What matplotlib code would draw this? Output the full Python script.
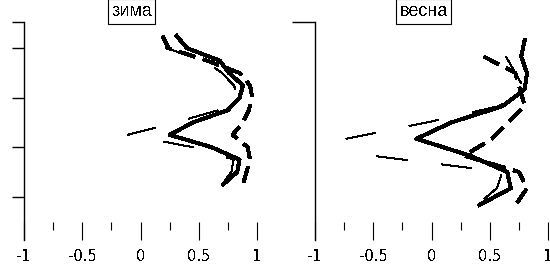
import numpy as np
import matplotlib
matplotlib.use('Agg')
import matplotlib.pyplot as plt

plt.rcParams['font.family'] = ['Liberation Sans', 'DejaVu Sans']
plt.rcParams['axes.unicode_minus'] = False
plt.rcParams['lines.scale_dashes'] = False
plt.rcParams['text.antialiased'] = False

# y levels of the profile points
levels_winter = [4.25, 4.0, 3.75, 3.5, 3.25, 3.0, 2.75, 2.5, 2.25, 2.0, 1.75, 1.5, 1.25]
solid_winter = [0.31, 0.40, 0.68, 0.76, 0.88, 0.85, 0.75, 0.45, 0.25, 0.61, 0.85, 0.83, 0.71]
dashed_winter = [0.19, 0.24, 0.57, 0.85, 0.94, 0.96, 0.93, 0.88, 0.79, 0.92, 0.94, 0.91, 0.88]
thin_winter = [0.20, 0.22, 0.55, 0.70, 0.80, 0.85, 0.67, 0.30, -0.11, 0.45, 0.80, 0.78, 0.70]

levels_spring = [4.17, 3.83, 3.5, 3.17, 2.83, 2.5, 2.17, 1.83, 1.5, 1.17, 0.83]
solid_spring = [0.80, 0.77, 0.82, 0.80, 0.61, 0.17, -0.13, 0.33, 0.65, 0.68, 0.41]
levels_spring_b = [3.83, 3.5, 3.17, 2.83, 2.5, 2.17, 1.83, 1.5, 1.17, 0.83]
dashed_spring = [0.45, 0.72, 0.76, 0.80, 0.66, 0.52, 0.28, 0.75, 0.82, 0.72]
thin_spring = [0.64, 0.72, 0.80, 0.58, -0.04, -0.73, -0.52, 0.61, 0.56, 0.39]

titles = ['зима', 'весна']
xticks_major = [-1, -0.5, 0, 0.5, 1]
xtick_labels = ['-1', '-0.5', '0', '0.5', '1']
xticks_minor = [-0.75, -0.25, 0.25, 0.75]
yticks_winter = [1, 2, 3, 4]

ylo, yhi = 0.125, 4.53

fig = plt.figure(figsize=(5.5, 2.68), dpi=100)
ax1 = fig.add_axes([24/550, 28/268, 233/550, 218/268])
ax2 = fig.add_axes([315/550, 28/268, 233/550, 218/268])

panels = [
    (ax1, levels_winter, solid_winter, levels_winter, dashed_winter, thin_winter),
    (ax2, levels_spring, solid_spring, levels_spring_b, dashed_spring, thin_spring),
]

for ax, lv, sol, lv_b, dsh, thn in panels:
    ax.plot(thn, lv_b, color='black', lw=0.75, linestyle=(0, (22, 25)), antialiased=False)
    ax.plot(dsh, lv_b, color='black', lw=2.2, linestyle=(0, (12, 6)), antialiased=False)
    ax.plot(sol, lv, color='black', lw=2.2, antialiased=False)
    ax.set_xlim(-1, 1)
    ax.set_ylim(ylo, yhi)
    for s in ['top', 'right', 'bottom']:
        ax.spines[s].set_visible(False)
    ax.spines['left'].set_linewidth(1.0)
    ax.spines['bottom'].set_position(('outward', -13))
    ax.set_xticks(xticks_major)
    ax.set_xticklabels(xtick_labels, family='DejaVu Sans')
    ax.set_xticks(xticks_minor, minor=True)
    ax.tick_params(axis='x', which='major', direction='out', length=13, width=0.8,
                   pad=6.5, labelsize=10.5)
    ax.tick_params(axis='x', which='minor', direction='out', length=5.8, width=0.8)
    ax.set_yticklabels([])

ax1.set_yticks(yticks_winter + [yhi])
ax1.set_yticklabels([])
ax1.tick_params(axis='y', direction='out', length=8.6, width=1.0)
ax2.set_yticks([yhi])
ax2.set_yticklabels([])
ax2.tick_params(axis='y', direction='out', length=16.6, width=1.0)

fig.text(131.5/550, 1 - 11.5/268, titles[0], ha='center', va='center', fontsize=13,
         bbox=dict(boxstyle='square,pad=0.2', fc='white', ec='black', lw=0.8))
fig.text(423.5/550, 1 - 11.5/268, titles[1], ha='center', va='center', fontsize=13,
         bbox=dict(boxstyle='square,pad=0.2', fc='white', ec='black', lw=0.8))

fig.savefig('out.png', dpi=100)
